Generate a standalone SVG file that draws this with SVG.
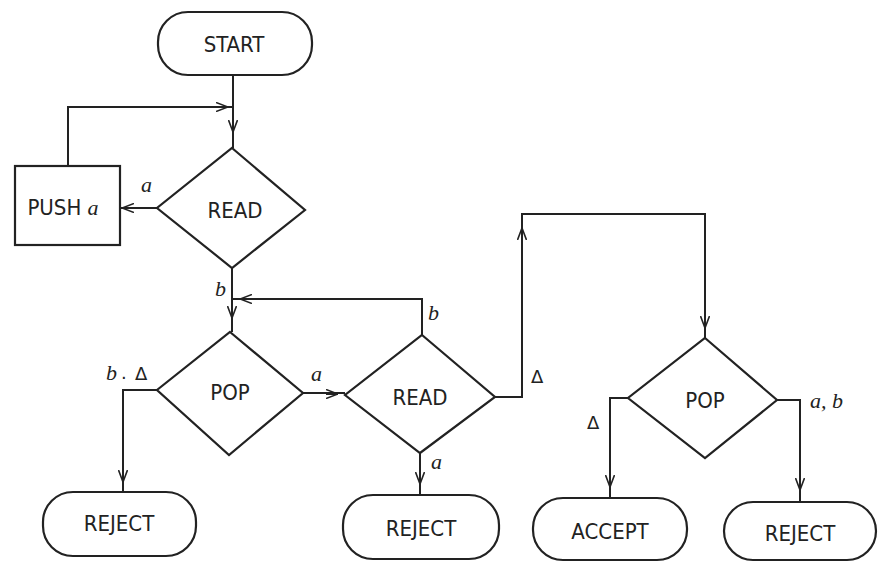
<svg xmlns="http://www.w3.org/2000/svg" width="884" height="562" viewBox="0 0 884 562">
<defs>
<style>
.shape{fill:#fff;stroke:#222;stroke-width:2.2}
.line{fill:none;stroke:#222;stroke-width:2}
.t{font-family:"DejaVu Sans Condensed","DejaVu Sans",sans-serif;font-stretch:condensed;font-size:22px;fill:#222;text-anchor:middle;dominant-baseline:central}
.lab{font-family:"Liberation Serif",serif;font-style:italic;font-size:22px;fill:#222}
.sym{font-family:"DejaVu Sans",sans-serif;font-size:18px;fill:#222}
</style>
<marker id="arr" viewBox="0 0 12 10" refX="12" refY="5" markerWidth="12" markerHeight="10" markerUnits="userSpaceOnUse" orient="auto">
<path d="M0,0.5 L12,5 L0,9.5" fill="none" stroke="#222" stroke-width="1.6"/>
</marker>
</defs>
<rect width="884" height="562" fill="#fff"/>

<g id="connectors">
<path class="line" d="M233,75 V148"/>
<path class="line" d="M233,122 V132" marker-end="url(#arr)"/>
<path class="line" d="M68,166 V107 H233"/>
<path class="line" d="M215,107 H228" marker-end="url(#arr)"/>
<path class="line" d="M157,208 H120"/>
<path class="line" d="M135,208 H122" marker-end="url(#arr)"/>
<path class="line" d="M232,268 V332"/>
<path class="line" d="M232,306 V318" marker-end="url(#arr)"/>
<path class="line" d="M422,335 V299 H232"/>
<path class="line" d="M252,299 H240" marker-end="url(#arr)"/>
<path class="line" d="M303,393 H345"/>
<path class="line" d="M326,394 H338" marker-end="url(#arr)"/>
<path class="line" d="M493,397 H522 V214 H705 V338"/>
<path class="line" d="M522,240 V228" marker-end="url(#arr)"/>
<path class="line" d="M705,316 V328" marker-end="url(#arr)"/>
<path class="line" d="M157,390 H123 V492"/>
<path class="line" d="M123,470 V482" marker-end="url(#arr)"/>
<path class="line" d="M420,453 V495"/>
<path class="line" d="M420,472 V484" marker-end="url(#arr)"/>
<path class="line" d="M628,398 H610 V498"/>
<path class="line" d="M610,475 V487" marker-end="url(#arr)"/>
<path class="line" d="M777,400 H800 V502"/>
<path class="line" d="M800,478 V490" marker-end="url(#arr)"/>
<text class="lab" x="141" y="192">a</text>
<text class="lab" x="215" y="296">b</text>
<text class="lab" x="428" y="320">b</text>
<text class="lab" x="106" y="380">b</text>
<text class="sym" x="121" y="379">.</text>
<text class="sym" x="135" y="380">Δ</text>
<text class="lab" x="311" y="381">a</text>
<text class="sym" x="531" y="383">Δ</text>
<text class="lab" x="431" y="469">a</text>
<text class="sym" x="587" y="429">Δ</text>
<text class="lab" x="810" y="408">a, b</text>
</g>

<g id="start">
<rect class="shape" x="158" y="12" width="154" height="63" rx="30"/>
<text class="t" x="234" y="44">START</text>
</g>
<g id="read1">
<polygon class="shape" points="232,148 305,210 232,268 157,208"/>
<text class="t" x="235" y="210">READ</text>
</g>
<g id="push">
<rect class="shape" x="15" y="166" width="105" height="79"/>
<text class="t" x="63" y="207">PUSH <tspan font-family="Liberation Serif,serif" font-style="italic" font-size="22">a</tspan></text>
</g>
<g id="pop1">
<polygon class="shape" points="230,332 303,393 229,455 157,390"/>
<text class="t" x="230" y="392">POP</text>
</g>
<g id="read2">
<polygon class="shape" points="422,335 495,397 420,453 345,395"/>
<text class="t" x="420" y="397">READ</text>
</g>
<g id="pop2">
<polygon class="shape" points="705,338 777,400 705,458 628,398"/>
<text class="t" x="705" y="400">POP</text>
</g>
<g id="reject1">
<rect class="shape" x="43" y="492" width="153" height="64" rx="30"/>
<text class="t" x="119" y="523">REJECT</text>
</g>
<g id="reject2">
<rect class="shape" x="343" y="495" width="156" height="64" rx="30"/>
<text class="t" x="421" y="528">REJECT</text>
</g>
<g id="accept">
<rect class="shape" x="533" y="498" width="154" height="62" rx="30"/>
<text class="t" x="610" y="531">ACCEPT</text>
</g>
<g id="reject3">
<rect class="shape" x="724" y="502" width="152" height="58" rx="29"/>
<text class="t" x="800" y="533">REJECT</text>
</g>
</svg>
